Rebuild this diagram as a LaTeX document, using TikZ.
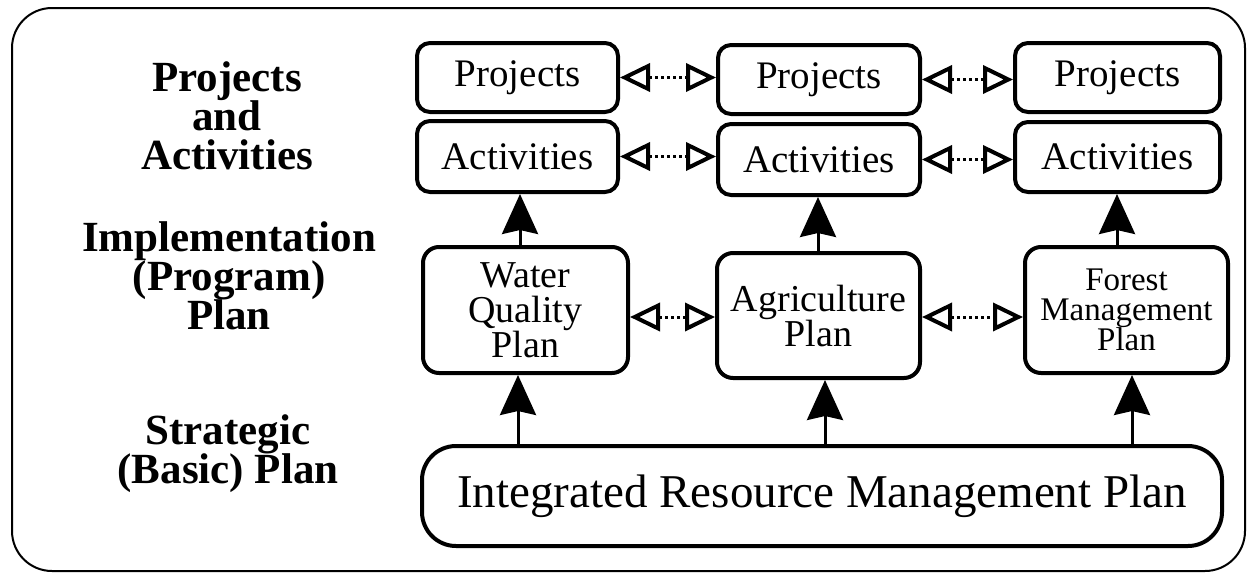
\documentclass[tikz,border=0pt]{standalone}
\usepackage{fontspec}
\setmainfont{Liberation Serif}
\usetikzlibrary{arrows.meta}
\lineskiplimit=-100pt
\tikzset{
  box/.style={draw, line width=4pt, rounded corners=13pt, inner sep=0pt, align=center},
  pabox/.style={box, font=\fontsize{39}{39}\selectfont},
  planbox/.style={box, rounded corners=16pt},
  lab/.style={font=\fontsize{43}{39}\selectfont\bfseries, align=center, inner sep=0pt},
  dotarrow/.style={line width=3pt, dash pattern=on 3pt off 3pt,
    {Triangle[open, length=30pt, width=28pt, line width=4pt]}-{Triangle[open, length=30pt, width=28pt, line width=4pt]}},
  uparrow/.style={line width=3pt, -{Stealth[length=40pt, width=36pt, inset=4pt]}}
}
\begin{document}
\begin{tikzpicture}[x=1pt, y=-1pt]
\useasboundingbox (0,0) rectangle (1251,579);
\draw[line width=2pt, rounded corners=40pt] (12,8) rectangle (1245,571);

% left labels
\node[lab, anchor=north] (lab1) at (227,61) {Projects\\and\\Activities};
\node[lab, anchor=north] (lab2) at (229,221) {Implementation\\(Program)\\Plan};
\node[lab, anchor=north] (lab3) at (228,414) {Strategic\\(Basic) Plan};

% projects row
\node[pabox, minimum width=201pt, minimum height=69pt] (p1) at (517.5,77.5) {Projects};
\node[pabox, minimum width=202pt, minimum height=69pt] (p2) at (819,79.5) {Projects};
\node[pabox, minimum width=205pt, minimum height=69pt] (p3) at (1117.5,77.5) {Projects};
% activities row
\node[pabox, minimum width=201pt, minimum height=71pt] (a1) at (517.5,156.5) {Activities};
\node[pabox, minimum width=202pt, minimum height=71pt] (a2) at (819,159.5) {Activities};
\node[pabox, minimum width=205pt, minimum height=70pt] (a3) at (1117.5,157) {Activities};

% plan row
\node[planbox, font=\fontsize{38}{35}\selectfont, minimum width=205pt, minimum height=126pt] (w) at (525.5,310) {Water\\Quality\\Plan};
\node[planbox, font=\fontsize{38}{35}\selectfont, minimum width=203pt, minimum height=125pt] (ag) at (818.5,315.5) {Agriculture\\Plan};
\node[planbox, font=\fontsize{33}{30}\selectfont, minimum width=203pt, minimum height=126pt] (f) at (1126.5,310) {Forest\\Management\\Plan};

% strategic
\node[box, rounded corners=34pt, font=\fontsize{47}{47}\selectfont, minimum width=800pt, minimum height=100pt] (irmp) at (822,496) {Integrated Resource Management Plan};

% dotted double arrows
\draw[dotarrow] (p1.east) -- (p1.east -| p2.west);
\draw[dotarrow] (p2.east) -- (p2.east -| p3.west);
\draw[dotarrow] (a1.east) -- (a1.east -| a2.west);
\draw[dotarrow] (a2.east) -- (a2.east -| a3.west);
\draw[dotarrow] (w.east |- 0,317) -- (ag.west |- 0,317);
\draw[dotarrow] (ag.east |- 0,317) -- (f.west |- 0,317);

% solid up arrows
\draw[uparrow] (w.north -| 520,0) -- (a1.south -| 520,0);
\draw[uparrow] (ag.north -| 818,0) -- (a2.south -| 818,0);
\draw[uparrow] (f.north -| 1117,0) -- (a3.south -| 1117,0);
\draw[uparrow] (irmp.north -| 518,0) -- (w.south -| 518,0);
\draw[uparrow] (irmp.north -| 825,0) -- (ag.south -| 825,0);
\draw[uparrow] (irmp.north -| 1132,0) -- (f.south -| 1132,0);
\end{tikzpicture}
\end{document}
